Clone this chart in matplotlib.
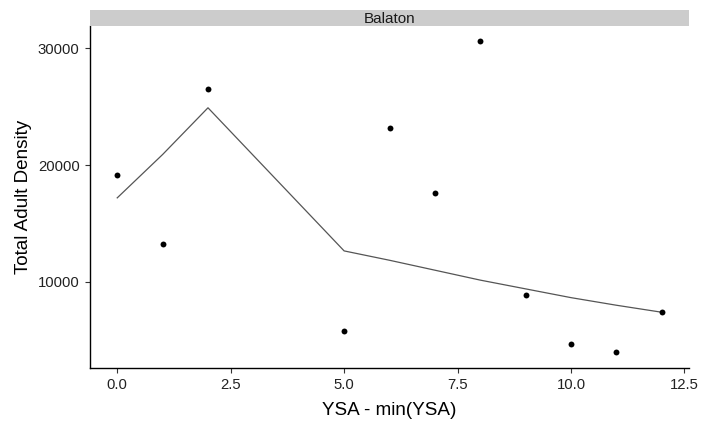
import matplotlib
matplotlib.use("Agg")
import matplotlib.pyplot as plt
from matplotlib.patches import Rectangle

plt.rcParams['font.family'] = ['Liberation Sans', 'DejaVu Sans']

ysa = [0, 1, 2, 5, 6, 7, 8, 9, 10, 11, 12]
density = [19150, 13280, 26550, 5830, 23150, 17620, 30600, 8890, 4720, 3960, 7450]
fitted = [17190, 20900, 24900, 12650, 11850, 11000, 10150, 9400, 8650, 8000, 7400]
xticks = [0.0, 2.5, 5.0, 7.5, 10.0, 12.5]
yticks = [10000, 20000, 30000]
facet = "Balaton"

fig = plt.figure(figsize=(7.02, 4.28), dpi=100)
ax = fig.add_axes([90/702, 60/428, 599/702, 342/428])
ax.plot(ysa, fitted, color='#555555', lw=0.9, zorder=2)
ax.scatter(ysa, density, s=18, color='black', zorder=3, linewidths=0)
ax.set_xlim(-0.6, 12.6)
ax.set_ylim(2628, 31900)
ax.set_xticks(xticks)
ax.set_xticklabels([f"{t:.1f}" for t in xticks])
ax.set_yticks(yticks)
ax.set_yticklabels([str(t) for t in yticks])
for s in ['top', 'right']:
    ax.spines[s].set_visible(False)
for s in ['left', 'bottom']:
    ax.spines[s].set_linewidth(1.0)
    ax.spines[s].set_color('black')
ax.tick_params(labelsize=10.7, colors='#222222', length=3.5, width=0.8, pad=4)
ax.tick_params(axis='both', which='both', color='#333333')
ax.set_xlabel("YSA - min(YSA)", fontsize=13.6, labelpad=7)
ax.set_ylabel("Total Adult Density", fontsize=13.6, labelpad=4)

# strip
sax = fig.add_axes([90/702, (428-26)/428, 599/702, 16/428])
sax.set_xlim(0, 1); sax.set_ylim(0, 1)
sax.add_patch(Rectangle((0, 0), 1, 1, facecolor='#CCCCCC', edgecolor='none'))
sax.text(0.5, 0.45, facet, ha='center', va='center', fontsize=11, color='#1A1A1A')
sax.axis('off')

fig.savefig("out.png", dpi=100)
